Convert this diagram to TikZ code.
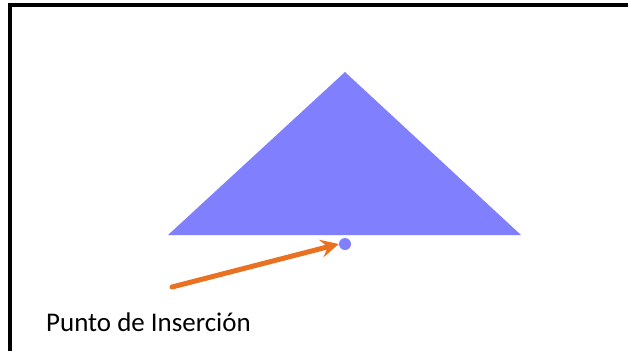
\documentclass[tikz,border=0pt]{standalone}
\usepackage{fontspec}
\setmainfont{Carlito}
\usetikzlibrary{arrows.meta,positioning}
\definecolor{triFill}{RGB}{128,128,255}
\definecolor{arrOrange}{RGB}{232,114,34}
\tikzset{
  frameln/.style={line width=1mm, black},
  tri/.style={fill=triFill, draw=none},
  insdot/.style={circle, fill=triFill, draw=none, minimum size=3.6mm, inner sep=0pt},
  pointer/.style={-{Stealth[length=5.4mm,width=5.4mm,inset=2mm]}, line width=1.5mm, arrOrange, line cap=round},
  lbl/.style={anchor=base west, inner sep=0pt, font=\fontsize{23}{27}\selectfont},
}

\begin{document}
\begin{tikzpicture}[x=0.3mm,y=-0.3mm]
    \useasboundingbox (0,0) rectangle (628,351);
    % frame
    \draw[frameln] (628,5) -- (10,5) -- (10,351);
    % the triangle
    \coordinate (apex) at (345,72);
    \coordinate (bl) at (168,235);
    \coordinate (br) at (521,235);
    \fill[tri] (apex) -- (br) -- (bl) -- cycle;
    % insertion point
    \node[insdot] (ins) at (345,244) {};
    \node[lbl] (txt) at (46,331) {Punto de Inserción};
    \coordinate (tail) at (172,287);
    \draw[pointer] (tail) -- (ins.west);
  \end{tikzpicture}
\end{document}
